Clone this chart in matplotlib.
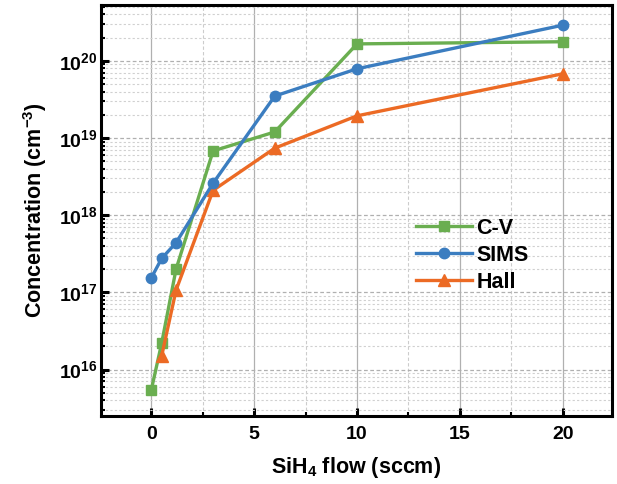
import matplotlib
matplotlib.use("Agg")
import matplotlib.pyplot as plt
from matplotlib.ticker import LogLocator, MultipleLocator, NullFormatter

plt.rcParams['font.family'] = ['Liberation Sans', 'DejaVu Sans']
plt.rcParams['font.weight'] = 'bold'
plt.rcParams['mathtext.fontset'] = 'custom'
plt.rcParams['mathtext.rm'] = 'Liberation Sans:bold'
plt.rcParams['mathtext.bf'] = 'Liberation Sans:bold'
plt.rcParams['mathtext.it'] = 'Liberation Sans:bold'
plt.rcParams['mathtext.default'] = 'bf'

x_cv = [0, 0.5, 1.2, 3, 6, 10, 20]
cv = [5.5e15, 2.2e16, 2.0e17, 6.8e18, 1.2e19, 1.66e20, 1.77e20]
x_sims = [0, 0.5, 1.2, 3, 6, 10, 20]
sims = [1.55e17, 2.75e17, 4.4e17, 2.6e18, 3.5e19, 7.9e19, 2.9e20]
x_hall = [0.5, 1.2, 3, 6, 10, 20]
hall = [1.5e16, 1.07e17, 2.1e18, 7.4e18, 1.94e19, 6.8e19]
labels = ['C-V', 'SIMS', 'Hall']

fig = plt.figure(figsize=(6.17, 4.84), dpi=100)
ax = fig.add_axes([0.1637, 0.1405, 0.8283, 0.8492])

ax.plot(x_cv, cv, color='#6aae50', marker='s', lw=2.4, ms=7, label=labels[0], zorder=3)
ax.plot(x_sims, sims, color='#3b7dc0', marker='o', lw=2.4, ms=7.5, label=labels[1], zorder=4)
ax.plot(x_hall, hall, color='#ec6a24', marker='^', lw=2.4, ms=8, label=labels[2], zorder=3)

ax.set_yscale('log')
ax.set_xlim(-2.45, 22.4)
ax.set_ylim(2.5e15, 5.3e20)
ax.xaxis.set_major_locator(MultipleLocator(5))
ax.xaxis.set_minor_locator(MultipleLocator(2.5))
ax.yaxis.set_major_locator(LogLocator(base=10, numticks=20))
ax.yaxis.set_minor_locator(LogLocator(base=10, subs=range(2, 10), numticks=20))
ax.yaxis.set_minor_formatter(NullFormatter())

ax.grid(True, which='major', axis='x', color='#b0b0b0', lw=0.9, ls='-')
ax.grid(True, which='minor', axis='x', color='#cccccc', lw=0.8, ls=(0, (3, 2)))
ax.grid(True, which='major', axis='y', color='#b0b0b0', lw=0.9, ls=(0, (3, 2)))
ax.grid(True, which='minor', axis='y', color='#d0d0d0', lw=0.8, ls=(0, (2, 2)))
ax.set_axisbelow(True)

for s in ax.spines.values():
    s.set_linewidth(2.2)
ax.tick_params(which='major', direction='in', length=6, width=2.2, labelsize=14, pad=7)
ax.tick_params(axis='y', which='major', pad=2.5)
ax.tick_params(which='minor', direction='in', length=3, width=1.5)
ax.tick_params(axis='y', which='both', right=False)
ax.tick_params(axis='x', which='both', top=False)

ax.set_xlabel('SiH$_4$ flow (sccm)', fontsize=15.5, fontweight='bold', labelpad=9)
ax.set_ylabel('Concentration (cm$^{-3}$)', fontsize=15.5, fontweight='bold', labelpad=7)

ax.legend(loc='upper left', bbox_to_anchor=(0.6, 0.503), frameon=False, fontsize=15.5,
          handlelength=2.6, handletextpad=0.2, labelspacing=0.28, borderaxespad=0)

fig.savefig('out.png', dpi=100)
